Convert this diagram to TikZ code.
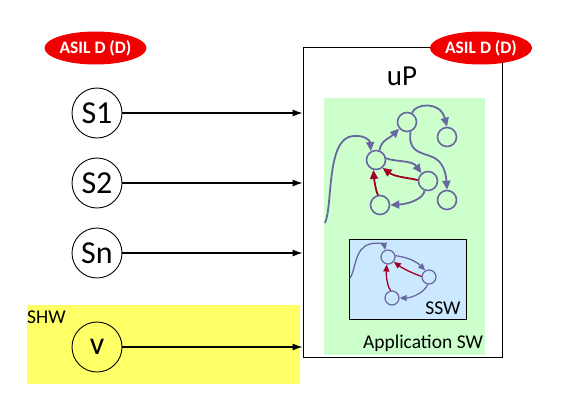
\documentclass[tikz,border=0pt]{standalone}
\usepackage{fontspec}
\setmainfont{Carlito}
\usetikzlibrary{arrows.meta,shapes.geometric}
\definecolor{gedge}{RGB}{104,104,160}
\definecolor{redge}{RGB}{160,0,40}
\definecolor{greenbg}{RGB}{204,255,204}
\definecolor{bluebg}{RGB}{204,232,255}
\definecolor{yellowbg}{RGB}{255,255,102}
\definecolor{asilred}{RGB}{240,0,0}
\tikzset{
  asil/.style={ellipse,fill=asilred,minimum width=102pt,minimum height=33pt,inner sep=0pt,text=white,font=\fontsize{17.5}{18}\selectfont\bfseries},
  sensor/.style={circle,draw=black,line width=0.9pt,minimum size=50pt,inner sep=0pt,fill=white,font=\fontsize{32}{34}\selectfont},
  sig/.style={line width=1.1pt,-{Latex[length=10pt,width=7pt]}},
  gnode/.style={circle,draw=gedge,line width=1.6pt,minimum size=19pt,inner sep=0pt},
  snode/.style={circle,draw=gedge,line width=1.2pt,minimum size=14pt,inner sep=0pt},
  ga/.style={draw=gedge,line width=1.8pt,-{Triangle[length=9pt,width=8pt]}},
  ra/.style={draw=redge,line width=1.8pt,-{Triangle[length=9pt,width=8pt]}},
  sa/.style={draw=gedge,line width=1.3pt,-{Triangle[length=7pt,width=6pt]}},
  sr/.style={draw=redge,line width=1.3pt,-{Triangle[length=7pt,width=6pt]}},
  lbl/.style={inner sep=0pt,font=\fontsize{19.5}{20}\selectfont}
}
\begin{document}
\begin{tikzpicture}[x=1pt,y=-1pt]
\useasboundingbox (0,0) rectangle (561,402);
% SHW area
\fill[yellowbg] (27,305) rectangle (300,384);
\node[lbl,anchor=west] (shw) at (27,317) {SHW};
% main box
\node[draw=black,line width=0.9pt,minimum width=199pt,minimum height=310pt,inner sep=0pt] (up) at (402.5,202.5) {};
\node[inner sep=0pt,font=\fontsize{29}{30}\selectfont] (uplbl) at (402,76) {uP};
% application SW
\node[fill=greenbg,minimum width=161pt,minimum height=257pt,inner sep=0pt] (app) at (404.5,226.5) {};
\node[lbl] (applbl) at (423,343) {Application SW};
% SSW box
\node[draw=black,line width=0.9pt,fill=bluebg,minimum width=117pt,minimum height=80pt,inner sep=0pt] (ssw) at (407.5,279) {};
\node[lbl] (sswlbl) at (443,308) {SSW};
% ASIL ellipses
\node[asil] (asilL) at (95.5,48) {ASIL D (D)};
\node[asil] (asilR) at (481,48) {ASIL D (D)};
% sensors
\node[sensor] (s1) at (97,113) {S1};
\node[sensor] (s2) at (97,183) {S2};
\node[sensor] (sn) at (97,253) {Sn};
\node[sensor,fill=none] (v) at (97,347) {v};
\draw[sig] (s1) -- (s1 -| up.west);
\draw[sig] (s2) -- (s2 -| up.west);
\draw[sig] (sn) -- (sn -| up.west);
\draw[sig] (v) -- (v -| up.west);
% application graph
\node[gnode] (A) at (407,122) {};
\node[gnode] (B) at (447,137) {};
\node[gnode] (C) at (376,160) {};
\node[gnode] (D) at (428,181) {};
\node[gnode] (E) at (380,205) {};
\node[gnode] (F) at (447,200) {};
\coordinate (gin) at (325,223);
\draw[ga] (gin) .. controls (333,205) and (326,138) .. (353,136) .. controls (364,135) and (370,140) .. (C.120);
\draw[ga] (C.70) .. controls (381,140) and (390,138) .. (A.220);
\draw[ga] (A.60) .. controls (414,104) and (440,100) .. (B.90);
\draw[ga] (A.290) .. controls (408,150) and (418,152) .. (430,156) .. controls (444,160) and (446,175) .. (F.90);
\draw[ga] (C.10) .. controls (395,162) and (412,160) .. (D.130);
\draw[ga] (D.250) .. controls (424,198) and (410,204) .. (E.0);
\draw[ra] (D.175) .. controls (410,178) and (395,177) .. (C.310);
\draw[ra] (E.100) .. controls (376,193) and (374,178) .. (C.255);
% SSW graph
\node[snode] (P) at (388,257) {};
\node[snode] (Q) at (429,277) {};
\node[snode] (R) at (392,298) {};
\coordinate (sin) at (350,278);
\draw[sa] (sin) .. controls (356,270) and (354,248) .. (370,244) .. controls (378,242) and (384,244) .. (P.110);
\draw[sa] (P.10) .. controls (405,257) and (415,260) .. (Q.120);
\draw[sa] (Q.260) .. controls (425,292) and (412,298) .. (R.0);
\draw[sr] (Q.175) .. controls (415,274) and (405,270) .. (P.320);
\draw[sr] (R.100) .. controls (388,288) and (386,278) .. (P.260);
\end{tikzpicture}
\end{document}
